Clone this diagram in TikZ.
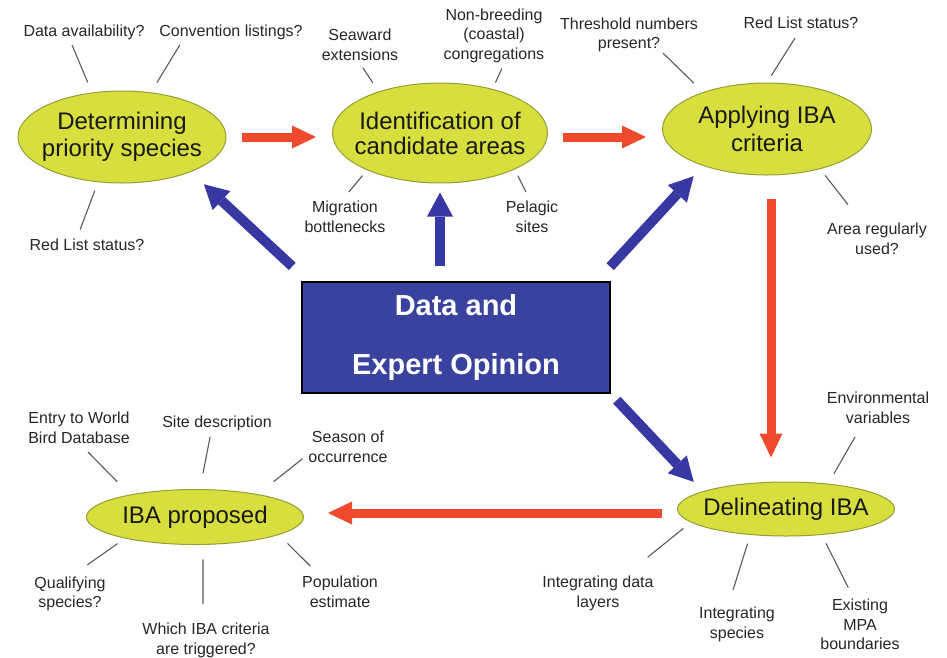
\documentclass[tikz,border=0pt]{standalone}
\usepackage{fontspec}
\setmainfont{Liberation Sans}
\usetikzlibrary{arrows.meta,shapes.geometric}

\begin{document}
\begin{tikzpicture}[x=1pt, y=-1pt,
  task/.style={ellipse, draw=taskline, fill=taskfill, line width=1pt,
    inner xsep=-12pt, inner ysep=0pt, align=center, text=black!90},
  note/.style={align=center, inner sep=1pt, text=black!85,
    font=\fontsize{16}{19.5}\selectfont},
  spoke/.style={draw=black!65, line width=1.1pt},
  flow/.style={draw=flowred, line width=9pt,
    -{Triangle[width=23pt, length=24pt, line width=0pt]}},
  feed/.style={draw=feedblue, line width=10pt,
    -{Triangle[width=26pt, length=24pt, line width=0pt]}}]
  % Define colors
  \definecolor{taskfill}{RGB}{214,223,62}
  \definecolor{taskline}{RGB}{150,158,52}
  \definecolor{flowred}{RGB}{239,74,45}
  \definecolor{feedblue}{RGB}{56,56,162}
  \definecolor{boxblue}{RGB}{58,66,160}

  \useasboundingbox (0,0) rectangle (947,657);

  % The five steps
  \node[task, minimum width=208pt, minimum height=92pt,
    font=\fontsize{24}{26.5}\selectfont] (ps) at (122,137)
    {Determining\\priority species};
  \node[task, minimum width=215pt, minimum height=100pt,
    font=\fontsize{24}{25}\selectfont] (ca) at (440,133)
    {Identification of\\candidate areas};
  \node[task, minimum width=209pt, minimum height=92pt,
    font=\fontsize{24}{28}\selectfont] (ac) at (767,129)
    {Applying IBA\\criteria};
  \node[task, minimum width=217pt, minimum height=54pt,
    font=\fontsize{24}{28}\selectfont] (dl) at (786,509) {Delineating IBA};
  \node[task, minimum width=217pt, minimum height=55pt,
    font=\fontsize{24}{28}\selectfont] (pr) at (195,517) {IBA proposed};

  % Central box
  \node[draw=black, line width=1.2pt, fill=boxblue, minimum width=308pt,
    minimum height=111pt, align=center, text=white,
    font=\bfseries\fontsize{29}{59}\selectfont] (de) at (456,337.5)
    {Data and\\Expert Opinion};

  % Questions round each step
  \node[note] (ps1) at (84,32.7) {Data availability?};
  \node[note] (ps2) at (231,32.7) {Convention listings?};
  \node[note] (ps3) at (87,245) {Red List status?};
  \node[note] (ca1) at (360,45) {Seaward\\extensions};
  \node[note] (ca2) at (494,35.7) {Non-breeding\\(coastal)\\congregations};
  \node[note] (ca3) at (345,217) {Migration\\bottlenecks};
  \node[note] (ca4) at (532,217) {Pelagic\\sites};
  \node[note] (ac1) at (629,34.7) {Threshold numbers\\present?};
  \node[note] (ac2) at (801,23) {Red List status?};
  \node[note] (ac3) at (877,238.7) {Area regularly\\used?};
  \node[note] (pr1) at (79,428) {Entry to World\\Bird Database};
  \node[note] (pr2) at (217,423.7) {Site description};
  \node[note] (pr3) at (348,447) {Season of\\occurrence};
  \node[note] (pr4) at (70,593.7) {Qualifying\\species?};
  \node[note] (pr5) at (206,640.2) {Which IBA criteria\\are triggered?};
  \node[note] (pr6) at (340,592) {Population\\estimate};
  \node[note] (dl1) at (878,408) {Environmental\\variables};
  \node[note] (dl2) at (598,593.5) {Integrating data\\layers};
  \node[note] (dl3) at (737,624.5) {Integrating\\species};
  \node[note] (dl4) at (860,624.5) {Existing\\MPA\\boundaries};

  % Red arrows: order of the steps
  \draw[flow, shorten <=15pt, shorten >=16pt] (ps.east) -- (ps.east -| ca.west);
  \draw[flow, shorten <=15pt, shorten >=16pt] (ca.east |- ps.east) -- (ac.west |- ps.east);
  \draw[flow, shorten <=23pt, shorten >=24pt] ([xshift=4pt]ac.south)
    -- ([xshift=4pt]ac.south |- dl.north);
  \draw[flow, shorten <=15pt, shorten >=24pt] ([yshift=-4pt]dl.west)
    -- ([yshift=-4pt]dl.west -| pr.east);

  % Blue arrows: data feeding the steps
  \draw[feed, shorten <=22pt, shorten >=18pt] ([xshift=7pt]de.north west) -- (ps.333);
  \draw[feed, shorten <=15pt, shorten >=9pt] (de.north -| ca.south) -- (ca.south);
  \draw[feed, shorten <=20pt, shorten >=14pt] ([xshift=-14pt]de.north east) -- (ac.210);
  \draw[feed, shorten <=9pt, shorten >=13pt] (de.south east) -- (dl.168);

  % Spokes from each step to its questions
  \foreach \ell/\ang/\gin/\lab/\anc/\sx/\sy/\gout in {
    ps/124/11/ps1/south/-13.5/0/4, ps/57/11.5/ps2/south/-49/0/4,
    ps/242/9/ps3/north/-10/0/9,
    ca/146/10.5/ca1/south/-1/0/7, ca/40/7/ca2/south/10/0/5,
    ca/207/7/ca3/north/-3/0/10.5, ca/334/7/ca4/north/-2/0/9,
    ac/150/13/ac1/south/34/0/0, ac/90/8/ac2/south/-1/0/9.5,
    ac/323/8/ac3/north/-15.5/0/22,
    pr/161/18/pr1/south/2/0/10, pr/80/16/pr2/south/-6/0/4.5,
    pr/20/20/pr3/west/0/-8/6, pr/197/9/pr4/north/2.5/0/18,
    pr/286/14.5/pr5/north/-3/0/18, pr/348/12/pr6/north/-20.5/0/13,
    dl/31/11.5/dl1/south/-16/0/14, dl/188/9.5/dl2/north/27.5/0/28.5,
    dl/216/9/dl3/north/-9/0/17, dl/324/9.5/dl4/north/-6.5/0/11.5} {
    \draw[spoke, shorten <=\gin pt, shorten >=\gout pt] (\ell.\ang)
      -- ([xshift=\sx pt, yshift=\sy pt]\lab.\anc);
  }
\end{tikzpicture}
\end{document}
